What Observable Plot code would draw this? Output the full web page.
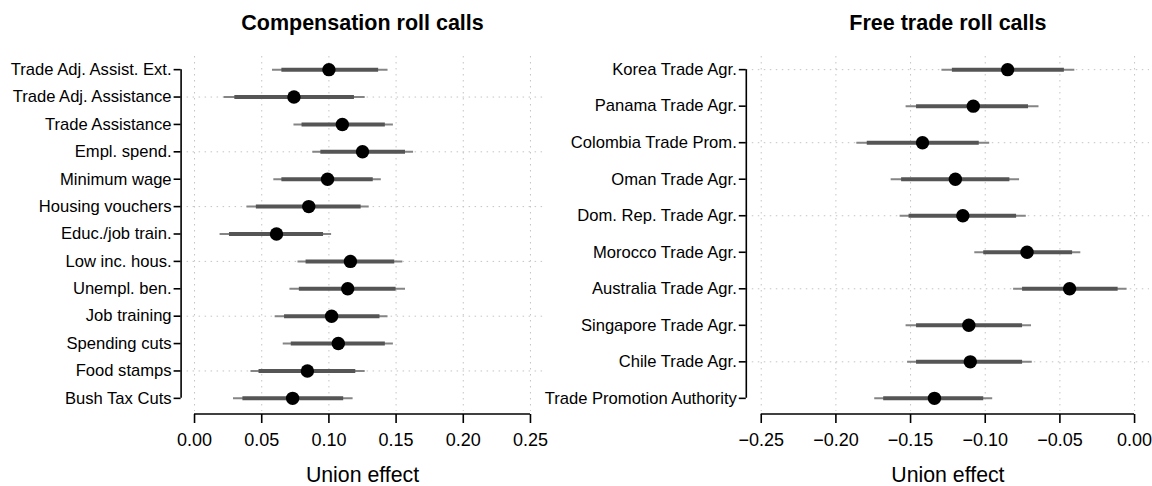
<!DOCTYPE html>
<html>
<head>
<meta charset="utf-8">
<script src="https://cdn.jsdelivr.net/npm/d3@7"></script>
<script src="https://cdn.jsdelivr.net/npm/@observablehq/plot@0.6"></script>
<style>
  html, body { margin: 0; padding: 0; background: #fff; }
  #chart { display: flex; width: 1152px; height: 486px; }
</style>
</head>
<body>
<div id="chart"></div>
<script>
// Compensation roll calls: estimated union effect with 90% (thick) and 95% (thin) intervals
const compLabels = [
  "Trade Adj. Assist. Ext.", "Trade Adj. Assistance", "Trade Assistance", "Empl. spend.",
  "Minimum wage", "Housing vouchers", "Educ./job train.", "Low inc. hous.",
  "Unempl. ben.", "Job training", "Spending cuts", "Food stamps", "Bush Tax Cuts"
];
const compEst  = [0.100, 0.074, 0.110, 0.125, 0.099, 0.085, 0.061, 0.116, 0.114, 0.102, 0.107, 0.084, 0.073];
const compLo95 = [0.058, 0.022, 0.074, 0.088, 0.059, 0.039, 0.019, 0.077, 0.071, 0.060, 0.066, 0.042, 0.029];
const compHi95 = [0.144, 0.127, 0.148, 0.163, 0.139, 0.130, 0.102, 0.155, 0.157, 0.144, 0.148, 0.127, 0.118];
const compLo90 = [0.065, 0.030, 0.080, 0.094, 0.065, 0.046, 0.026, 0.083, 0.078, 0.067, 0.072, 0.048, 0.036];
const compHi90 = [0.137, 0.119, 0.142, 0.157, 0.133, 0.124, 0.096, 0.149, 0.150, 0.138, 0.142, 0.120, 0.111];
const compTicks = [0, 0.05, 0.10, 0.15, 0.20, 0.25];

// Free trade roll calls
const ftLabels = [
  "Korea Trade Agr.", "Panama Trade Agr.", "Colombia Trade Prom.", "Oman Trade Agr.",
  "Dom. Rep. Trade Agr.", "Morocco Trade Agr.", "Australia Trade Agr.", "Singapore Trade Agr.",
  "Chile Trade Agr.", "Trade Promotion Authority"
];
const ftEst  = [-0.085, -0.108, -0.142, -0.120, -0.115, -0.072, -0.0435, -0.111, -0.110, -0.134];
const ftLo95 = [-0.129, -0.153, -0.186, -0.163, -0.157, -0.107, -0.081, -0.153, -0.152, -0.174];
const ftHi95 = [-0.040, -0.064, -0.097, -0.077, -0.0725, -0.036, -0.005, -0.069, -0.0685, -0.095];
const ftLo90 = [-0.122, -0.146, -0.179, -0.156, -0.151, -0.101, -0.075, -0.146, -0.146, -0.168];
const ftHi90 = [-0.047, -0.071, -0.104, -0.0835, -0.079, -0.0415, -0.011, -0.075, -0.075, -0.101];
const ftTicks = [-0.25, -0.20, -0.15, -0.10, -0.05, 0];

const titles = ["Compensation roll calls", "Free trade roll calls"];
const xLabel = "Union effect";

const FONT = "'Liberation Sans', Arial, Helvetica, sans-serif";
const GRID = "#c4c4c4";
const DASH = "1.5,4.5";

function rows(labels, est, lo95, hi95, lo90, hi90) {
  return labels.map((label, i) => ({
    label, est: est[i], lo95: lo95[i], hi95: hi95[i], lo90: lo90[i], hi90: hi90[i]
  }));
}

// Axis line running from the first to the last tick, on the bottom edge of the frame
function xBaseline(ticks) {
  return (index, scales, values, dims) => d3.create("svg:line")
    .attr("x1", scales.x(ticks[0]))
    .attr("x2", scales.x(ticks[ticks.length - 1]))
    .attr("y1", dims.height - dims.marginBottom)
    .attr("y2", dims.height - dims.marginBottom)
    .attr("stroke", "black")
    .attr("stroke-width", 1.6)
    .node();
}

function panel({data, labels, ticks, title, marginLeft, marginRight}) {
  const n = labels.length;
  const span = ticks[ticks.length - 1] - ticks[0];
  const pad = span * 0.04;
  const xDomain = [ticks[0] - pad, ticks[ticks.length - 1] + pad];
  // dotted guide on every second row, counted from the bottom
  const gridRows = labels.filter((d, i) => (n - i) % 2 === 0);
  return Plot.plot({
    width: 576,
    height: 486,
    marginTop: 56,
    marginBottom: 72,
    marginLeft,
    marginRight,
    style: {fontFamily: FONT, color: "black", background: "white", overflow: "visible"},
    x: {domain: xDomain},
    y: {type: "point", domain: labels, range: [56, 411], padding: 0.04 * (n - 1), round: false},
    marks: [
      Plot.ruleX(ticks, {stroke: GRID, strokeDasharray: DASH, strokeWidth: 1, insetBottom: 3}),
      Plot.ruleY(gridRows, {y: d => d, stroke: GRID, strokeDasharray: DASH, strokeWidth: 1}),
      Plot.ruleY(data, {y: "label", x1: "lo95", x2: "hi95", stroke: "#858585", strokeWidth: 2}),
      Plot.ruleY(data, {y: "label", x1: "lo90", x2: "hi90", stroke: "#555555", strokeWidth: 4}),
      Plot.dot(data, {y: "label", x: "est", r: 6.7, fill: "black", stroke: "none"}),
      Plot.ruleX([xDomain[0]], {y1: () => labels[0], y2: () => labels[n - 1], stroke: "black", strokeWidth: 1.6}),
      Plot.axisY({anchor: "left", tickSize: 7, tickPadding: 2.5, fontSize: 16.6, strokeWidth: 1.6, label: null}),
      Plot.axisX({anchor: "bottom", ticks, tickFormat: ".2f", tickSize: 9, tickPadding: 10,
                  fontSize: 18, strokeWidth: 1.6, label: null}),
      xBaseline(ticks),
      Plot.text([xLabel], {text: d => d, frameAnchor: "bottom", lineAnchor: "bottom", dy: 67, fontSize: 21.3}),
      Plot.text([title], {text: d => d, frameAnchor: "top", lineAnchor: "bottom", dy: -27,
                          fontSize: 21.5, fontWeight: "bold"})
    ]
  });
}

const chart = document.getElementById("chart");
chart.append(panel({
  data: rows(compLabels, compEst, compLo95, compHi95, compLo90, compHi90),
  labels: compLabels, ticks: compTicks, title: titles[0],
  marginLeft: 180.6, marginRight: 32.6
}));
chart.append(panel({
  data: rows(ftLabels, ftEst, ftLo95, ftHi95, ftLo90, ftHi90),
  labels: ftLabels, ticks: ftTicks, title: titles[1],
  marginLeft: 169.8, marginRight: 3
}));
</script>
</body>
</html>
